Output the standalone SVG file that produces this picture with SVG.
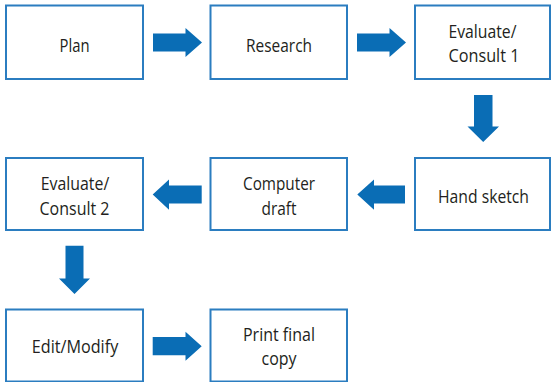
<svg xmlns="http://www.w3.org/2000/svg" width="551" height="382" viewBox="0 0 551 382">
<style>
.box{fill:#ffffff;stroke:#2b7dc0;stroke-width:2}
.arr{fill:#0a6db5}
text{font-family:"Open Sans","Noto Sans","Liberation Sans",sans-serif;font-size:19px;fill:#231f20;text-anchor:middle}
</style>
<rect width="551" height="382" fill="#ffffff"/>
<g id="connectors">
<polygon class="arr" points="153,33.5 185.5,33.5 185.5,28 202,42.5 185.5,57 185.5,51.5 153,51.5"/>
<polygon class="arr" points="357,33.5 389.5,33.5 389.5,28 406,42.5 389.5,57 389.5,51.5 357,51.5"/>
<polygon class="arr" points="474,95 492.5,95 492.5,126.5 499,126.5 483.2,142 467.5,126.5 474,126.5"/>
<polygon class="arr" points="405,185.5 374,185.5 374,179.5 357.3,194.5 374,209.8 374,203.5 405,203.5"/>
<polygon class="arr" points="201.7,185.5 169,185.5 169,179.5 152.7,194.5 169,209.8 169,203.5 201.7,203.5"/>
<polygon class="arr" points="65.5,245.7 83.5,245.7 83.5,278.5 90,278.5 74.5,294 59,278.5 65.5,278.5"/>
<polygon class="arr" points="152.7,337 185.5,337 185.5,331.7 201.7,346.2 185.5,360.7 185.5,355.3 152.7,355.3"/>
</g>
<g id="plan">
<rect class="box" x="6" y="5.5" width="137" height="73.5"/>
<text x="74.5" y="51.5" textLength="30" lengthAdjust="spacingAndGlyphs">Plan</text>
</g>
<g id="research">
<rect class="box" x="210.5" y="5.5" width="136.5" height="73.5"/>
<text x="279" y="51.5" textLength="66" lengthAdjust="spacingAndGlyphs">Research</text>
</g>
<g id="evaluate1">
<rect class="box" x="415" y="5.5" width="135" height="73.5"/>
<text x="482.5" y="37.5" textLength="68" lengthAdjust="spacingAndGlyphs">Evaluate/</text>
<text x="484" y="62" textLength="71" lengthAdjust="spacingAndGlyphs">Consult 1</text>
</g>
<g id="handsketch">
<rect class="box" x="415" y="158" width="135" height="72"/>
<text x="483.5" y="203" textLength="91" lengthAdjust="spacingAndGlyphs">Hand sketch</text>
</g>
<g id="computerdraft">
<rect class="box" x="210.5" y="158" width="136.5" height="72"/>
<text x="279" y="190" textLength="72" lengthAdjust="spacingAndGlyphs">Computer</text>
<text x="279" y="214.5" textLength="35" lengthAdjust="spacingAndGlyphs">draft</text>
</g>
<g id="evaluate2">
<rect class="box" x="6" y="158" width="137" height="72"/>
<text x="75" y="190" textLength="68.5" lengthAdjust="spacingAndGlyphs">Evaluate/</text>
<text x="74.5" y="214.5" textLength="70" lengthAdjust="spacingAndGlyphs">Consult 2</text>
</g>
<g id="editmodify">
<rect class="box" x="6" y="309.5" width="137" height="72"/>
<text x="75" y="353" textLength="86.5" lengthAdjust="spacingAndGlyphs">Edit/Modify</text>
</g>
<g id="printfinal">
<rect class="box" x="210.5" y="309.5" width="136.5" height="72"/>
<text x="279" y="340.5" textLength="72" lengthAdjust="spacingAndGlyphs">Print final</text>
<text x="279" y="365" textLength="35" lengthAdjust="spacingAndGlyphs">copy</text>
</g>
</svg>
